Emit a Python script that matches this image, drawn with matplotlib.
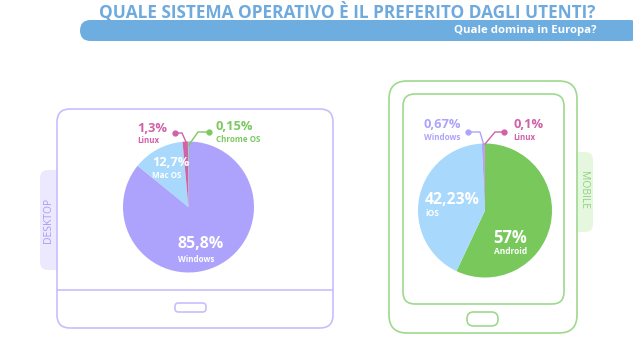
import matplotlib
matplotlib.use("Agg")
import matplotlib.pyplot as plt
from matplotlib.patches import FancyBboxPatch

# ---- data ----
desktop_labels = ["Windows", "Mac OS", "Linux", "Chrome OS"]
desktop_values = [85.8, 12.7, 1.3, 0.15]
desktop_text = ["85,8%", "12,7%", "1,3%", "0,15%"]
desktop_colors = ["#ada3fc", "#a8d9fc", "#d062a7", "#7bc95f"]

mobile_labels = ["Android", "iOS", "Windows", "Linux"]
mobile_values = [57, 42.23, 0.67, 0.1]
mobile_text = ["57%", "42,23%", "0,67%", "0,1%"]
mobile_colors = ["#78c85c", "#a8d9fc", "#ada3fc", "#d062a7"]

title = "QUALE SISTEMA OPERATIVO È IL PREFERITO DAGLI UTENTI?"
subtitle = "Quale domina in Europa?"

W, H = 633, 350
fig = plt.figure(figsize=(W / 100, H / 100), dpi=100)
ax = fig.add_axes([0, 0, 1, 1])
ax.set_xlim(0, W)
ax.set_ylim(0, H)
ax.axis("off")

FONT = "Open Sans"


def Y(y):
    return H - y


def rbox(x0, y0, x1, y1, r, **kw):
    p = FancyBboxPatch((x0 + r, Y(y1) + r), (x1 - x0) - 2 * r, (y1 - y0) - 2 * r,
                       boxstyle=f"round,pad={r}", **kw)
    ax.add_patch(p)
    return p


# ---- header ----
ax.text(347.5, Y(12), title, color="#6eaadd", fontsize=12.4, fontweight="bold",
        family=FONT, ha="center", va="center")
rbox(80, 20, 640, 41, 10.5, facecolor="#6eaddf", edgecolor="none", zorder=1)
ax.text(597, Y(30.5), subtitle, color="white", fontsize=8.2, fontweight="bold",
        family=FONT, ha="right", va="center", zorder=2)

# ---- desktop device ----
lav = "#c7bffc"
rbox(40, 170, 62, 270, 8, facecolor="#ece9fe", edgecolor="none", zorder=1)
ax.text(48.5, Y(220), "DESKTOP", rotation=90, color="#a79df3", fontsize=7.5,
        family=FONT, ha="center", va="center", zorder=2)
rbox(57, 109, 333, 328, 13, facecolor="white", edgecolor=lav, lw=1.2, zorder=2)
ax.plot([57, 333], [Y(290), Y(290)], color=lav, lw=1.2, zorder=3)
rbox(175, 303, 206, 312, 3.5, facecolor="none", edgecolor=lav, lw=1.2, zorder=3)

# ---- mobile device ----
grn = "#9ed98d"
rbox(570, 152, 593, 232, 8, facecolor="#e6f7e0", edgecolor="none", zorder=1)
ax.text(584, Y(190), "MOBILE", rotation=-90, color="#8ed27a", fontsize=7.5,
        family=FONT, ha="center", va="center", zorder=2)
rbox(389, 81, 577, 333, 18, facecolor="white", edgecolor=grn, lw=1.2, zorder=2)
rbox(403, 94, 564, 304, 12, facecolor="none", edgecolor=grn, lw=1.2, zorder=3)
rbox(467, 312, 498, 326, 6.5, facecolor="none", edgecolor=grn, lw=1.2, zorder=3)

# ---- pies ----
ax.pie(desktop_values, colors=desktop_colors, startangle=90, counterclock=False,
       center=(188.5, Y(207)), radius=65.5, frame=True,
       wedgeprops=dict(linewidth=0, zorder=4))
ax.pie(mobile_values, colors=mobile_colors, startangle=90, counterclock=False,
       center=(485, Y(210.5)), radius=67, frame=True,
       wedgeprops=dict(linewidth=0, zorder=4))
for p in ax.patches[-8:]:
    p.set_zorder(4)
ax.set_xlim(0, W)
ax.set_ylim(0, H)
ax.set_aspect("equal")
ax.axis("off")


def label(x, y, big, small, color, bs, ss, gap):
    ax.text(x, Y(y), big, color=color, fontsize=bs, fontweight="bold",
            family=FONT, ha="left", va="center", zorder=6)
    ax.text(x + 0.5, Y(y + gap), small, color=color, fontsize=ss, fontweight="bold",
            family=FONT, ha="left", va="center", zorder=6)


def leader(pts, color):
    xs = [p[0] for p in pts]
    ys = [Y(p[1]) for p in pts]
    ax.plot(xs, ys, color=color, lw=1.0, zorder=5)
    ax.plot(xs[0], ys[0], "o", color=color, ms=3.5, zorder=5)


# desktop labels
label(177, 244, desktop_text[0], desktop_labels[0], "white", 11.5, 5.8, 15)
label(152, 162, desktop_text[1], desktop_labels[1], "white", 9.3, 5.8, 13)
label(137, 128, desktop_text[2], desktop_labels[2], desktop_colors[2], 9.3, 5.8, 12.5)
label(216, 127, desktop_text[3], desktop_labels[3], desktop_colors[3], 9.3, 5.8, 12.5)
leader([(175, 133), (182, 133), (186.5, 143)], desktop_colors[2])
leader([(209, 132), (198, 132), (188.8, 145)], desktop_colors[3])

# mobile labels
label(493, 238, mobile_text[0], mobile_labels[0], "white", 12, 6, 14)
label(425, 200, mobile_text[1], mobile_labels[1], "white", 11.3, 6, 14)
label(423, 125, mobile_text[2], mobile_labels[2], mobile_colors[2], 9.3, 5.8, 12.5)
label(513, 125, mobile_text[3], mobile_labels[3], mobile_colors[3], 9.3, 5.8, 12.5)
leader([(468, 132), (480, 132), (483.5, 144)], mobile_colors[2])
leader([(504, 132), (495, 132), (485, 144)], mobile_colors[3])

fig.savefig("out.png", dpi=100, facecolor="white")
